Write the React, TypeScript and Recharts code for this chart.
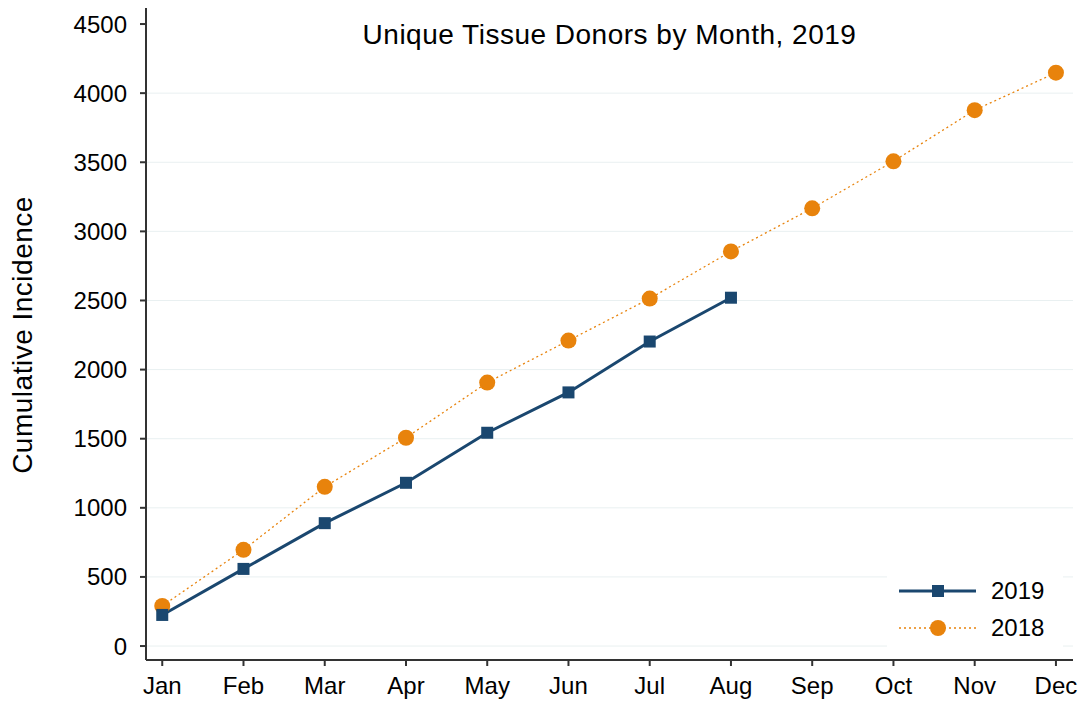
import React from "react";
import { LineChart, Line, XAxis, YAxis, ReferenceLine, Legend } from "recharts";

const months = ["Jan", "Feb", "Mar", "Apr", "May", "Jun", "Jul", "Aug", "Sep", "Oct", "Nov", "Dec"];
const series2019 = [225, 558, 889, 1181, 1543, 1835, 2203, 2520];
const series2018 = [290, 696, 1152, 1507, 1906, 2210, 2514, 2855, 3167, 3507, 3877, 4148];
const yTicks = [0, 500, 1000, 1500, 2000, 2500, 3000, 3500, 4000, 4500];
const gridValues = [0, 500, 1000, 1500, 2000, 2500, 3000, 3500, 4000];

const NAVY = "#1a476f";
const ORANGE = "#e8830c";
const FONT = "'Liberation Sans', Arial, sans-serif";

const data = months.map((name, i) => ({
  m: i + 1,
  name,
  y2019: i < series2019.length ? series2019[i] : null,
  y2018: series2018[i],
}));

const SquareDot = (props: any) => {
  const { cx, cy, value } = props;
  if (value == null || cx == null || cy == null) return <g key={props.key} />;
  return <rect key={props.key} x={cx - 6} y={cy - 6} width={12} height={12} fill={NAVY} />;
};

const CircleDot = (props: any) => {
  const { cx, cy, value } = props;
  if (value == null || cx == null || cy == null) return <g key={props.key} />;
  return <circle key={props.key} cx={cx} cy={cy} r={8} fill={ORANGE} />;
};

const LegendBox = () => (
  <div
    style={{
      position: "absolute",
      left: 887,
      top: 566,
      width: 176,
      height: 88,
      background: "#fff",
    }}
  >
    <svg width={176} height={88} style={{ position: "absolute", left: 0, top: 0 }}>
      <line x1={12} y1={25} x2={89} y2={25} stroke={NAVY} strokeWidth={3} />
      <rect x={45} y={19} width={12} height={12} fill={NAVY} />
      <line x1={12} y1={62} x2={89} y2={62} stroke={ORANGE} strokeWidth={1.3} strokeDasharray="2 3" />
      <circle cx={51} cy={62} r={8} fill={ORANGE} />
      <text x={104} y={33} fontSize={24} fontFamily={FONT} fill="#000">2019</text>
      <text x={104} y={70} fontSize={24} fontFamily={FONT} fill="#000">2018</text>
    </svg>
  </div>
);

export default function App() {
  return (
    <div style={{ position: "absolute", left: 0, top: 0, width: 1084, height: 706, background: "#fff" }}>
      <LineChart
        width={1084}
        height={706}
        data={data}
        margin={{ top: 8, right: 11, bottom: 0, left: 0 }}
        style={{ fontFamily: FONT }}
      >
        {gridValues.map((v) => (
          <ReferenceLine key={v} y={v} stroke="#e9f0f1" strokeWidth={1} />
        ))}
        <XAxis
          dataKey="m"
          type="number"
          domain={[0.8, 12.21]}
          ticks={months.map((_, i) => i + 1)}
          tickFormatter={(v: number) => months[v - 1]}
          height={46}
          tickSize={6}
          tickMargin={11}
          axisLine={{ stroke: "#333", strokeWidth: 2 }}
          tickLine={{ stroke: "#333", strokeWidth: 2 }}
          tick={{ fill: "#000", fontSize: 24, fontFamily: FONT }}
          interval={0}
          allowDataOverflow
        />
        <YAxis
          type="number"
          domain={[-101, 4616]}
          ticks={yTicks}
          width={146}
          tickSize={6}
          tickMargin={13}
          axisLine={{ stroke: "#333", strokeWidth: 2 }}
          tickLine={{ stroke: "#333", strokeWidth: 2 }}
          tick={{ fill: "#000", fontSize: 24, fontFamily: FONT }}
          interval={0}
          allowDataOverflow
        />
        <Line
          dataKey="y2018"
          stroke={ORANGE}
          strokeWidth={1.3}
          strokeDasharray="2 3"
          dot={CircleDot}
          activeDot={false}
          isAnimationActive={false}
          connectNulls={false}
        />
        <Line
          dataKey="y2019"
          stroke={NAVY}
          strokeWidth={3}
          dot={SquareDot}
          activeDot={false}
          isAnimationActive={false}
          connectNulls={false}
        />
        <Legend content={() => null} />
      </LineChart>
      <LegendBox />
      <div
        style={{
          position: "absolute",
          left: 0,
          width: 1219,
          top: 19,
          textAlign: "center",
          fontFamily: FONT,
          fontSize: 28,
          letterSpacing: 0.5,
          color: "#000",
        }}
      >
        Unique Tissue Donors by Month, 2019
      </div>
      <div
        style={{
          position: "absolute",
          left: 23,
          top: 335,
          transform: "translate(-50%, -50%) rotate(-90deg)",
          whiteSpace: "nowrap",
          fontFamily: FONT,
          fontSize: 28,
          letterSpacing: 0.5,
          color: "#000",
        }}
      >
        Cumulative Incidence
      </div>
    </div>
  );
}
